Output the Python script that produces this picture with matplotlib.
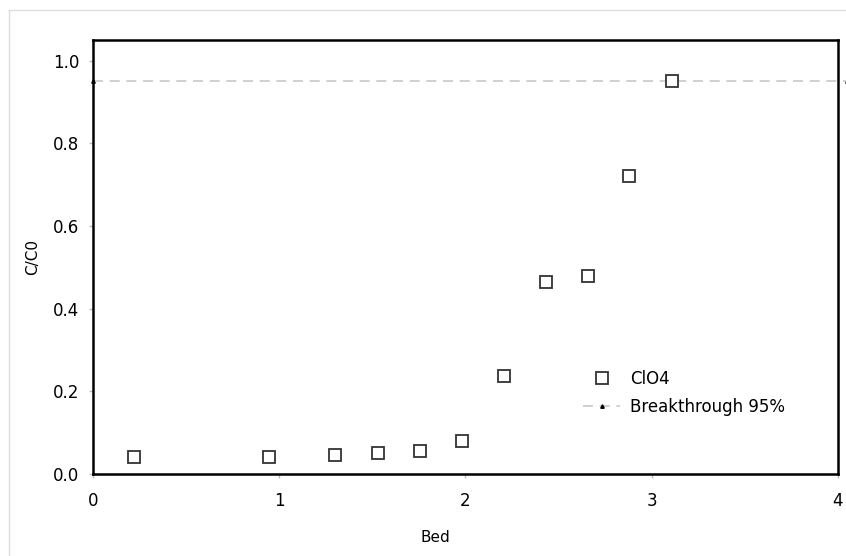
import matplotlib
matplotlib.use("Agg")
import matplotlib.pyplot as plt
from matplotlib.lines import Line2D

# breakthrough data
bed = [0.22, 0.945, 1.30, 1.53, 1.755, 1.98, 2.206, 2.43, 2.657, 2.877, 3.108]
c_c0 = [0.041, 0.041, 0.046, 0.051, 0.056, 0.080, 0.237, 0.465, 0.479, 0.720, 0.951]

bt_x = [0, 4.05]
bt_y = [0.95, 0.95]

x_ticks = [0, 1, 2, 3, 4]
y_ticks = [0.0, 0.2, 0.4, 0.6, 0.8, 1.0]

plt.rcParams['font.family'] = ['DejaVu Sans']

fig = plt.figure(figsize=(8.46, 5.56), dpi=100, facecolor='white')
ax = fig.add_axes([0.1099, 0.1475, 0.8806, 0.7805])

ax.plot(bt_x, bt_y, color='#c8c8c8', linestyle=(0, (6, 4)), linewidth=1.2,
        marker='^', markersize=2.5, markerfacecolor='black', markeredgecolor='black',
        clip_on=False, label='Breakthrough 95%', zorder=2)
ax.plot(bed, c_c0, linestyle='none', marker='s', markersize=8,
        markerfacecolor='white', markeredgecolor='#333333', markeredgewidth=1.3,
        label='ClO4', zorder=3)

ax.set_xlim(0, 4)
ax.set_ylim(0, 1.05)
ax.set_xticks(x_ticks)
ax.set_xticklabels([str(t) for t in x_ticks])
ax.set_yticks(y_ticks)
ax.set_yticklabels([f"{t:.1f}" for t in y_ticks])

ax.tick_params(axis='x', direction='out', length=3, width=1, color='#bbbbbb',
               pad=10, labelsize=12)
ax.tick_params(axis='y', direction='out', length=3, width=1, color='#bbbbbb',
               pad=7, labelsize=12)

for sp in ax.spines.values():
    sp.set_linewidth(1.8)
    sp.set_color('black')

ax.set_xlabel("Bed", fontsize=11)
ax.set_ylabel("C/C0", fontsize=11)
ax.xaxis.set_label_coords(0.459, -0.13)
ax.yaxis.set_label_coords(-0.071, 0.5)

handles, labels = ax.get_legend_handles_labels()
ax.legend(handles[::-1], labels[::-1], loc='upper left',
          bbox_to_anchor=(0.638, 0.275), frameon=False, fontsize=12,
          numpoints=1, handlelength=2.2, handletextpad=0.6, labelspacing=0.6)

# light page border
fig.add_artist(Line2D([8.5 / 846, 8.5 / 846], [0, 1 - 10 / 556],
                      color='#dddddd', linewidth=1))
fig.add_artist(Line2D([8.5 / 846, 1], [1 - 10 / 556, 1 - 10 / 556],
                      color='#dddddd', linewidth=1))

fig.savefig("out.png", dpi=100, facecolor='white')
